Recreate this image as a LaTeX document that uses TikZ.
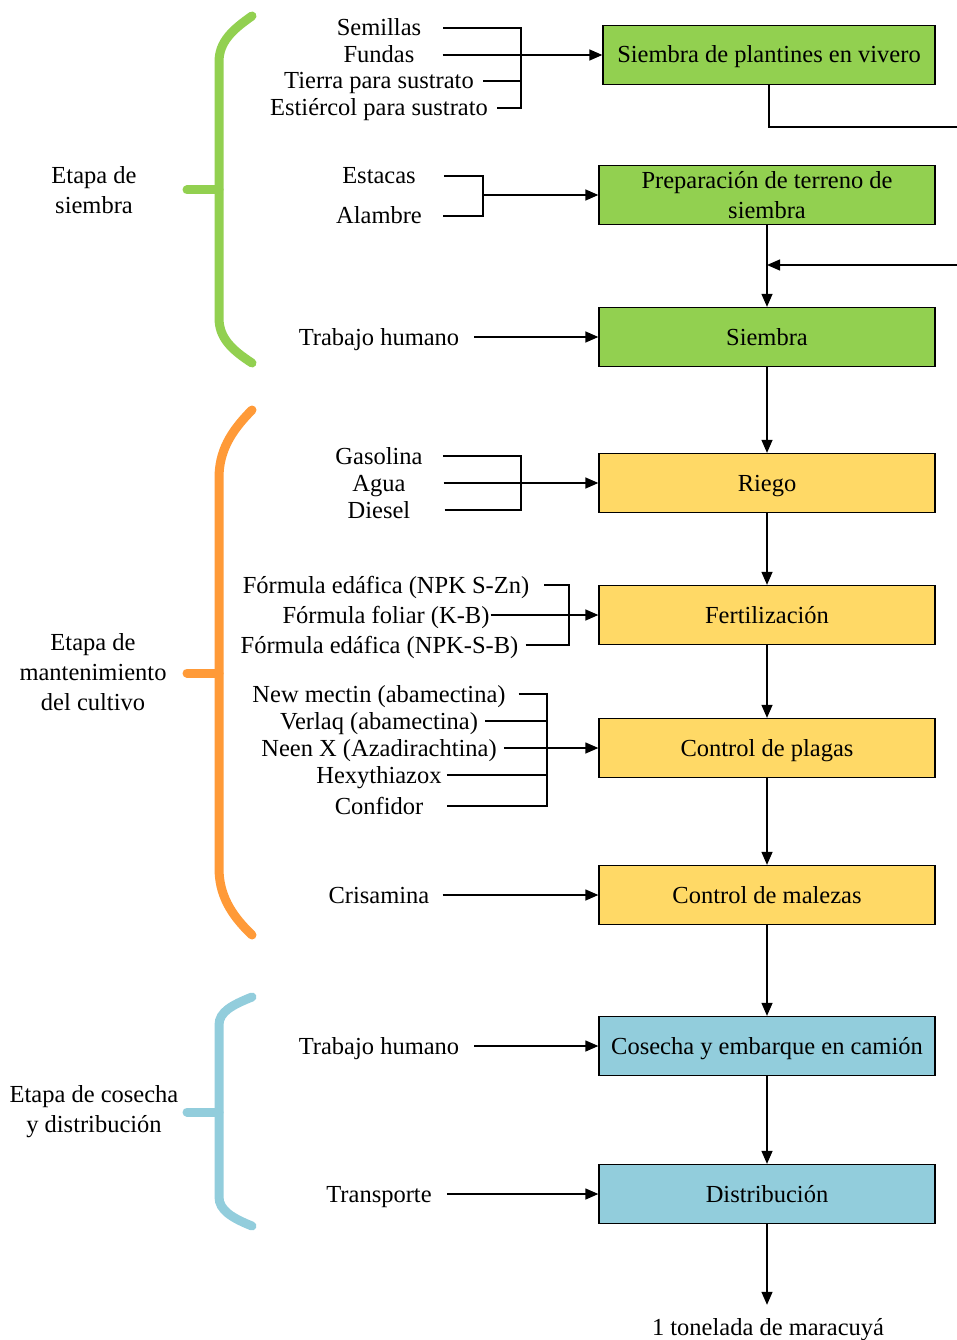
\documentclass[tikz,border=0pt]{standalone}
\usepackage{fontspec}
\setmainfont{Liberation Serif}
\usetikzlibrary{arrows.meta}
\definecolor{verde}{HTML}{92D050}
\definecolor{naranja}{HTML}{FF9A38}
\definecolor{amarillo}{HTML}{FFD966}
\definecolor{celeste}{HTML}{92CDDC}
\begin{document}
\begin{tikzpicture}[x=1pt, y=-1pt,
  every node/.style={font=\fontsize{24.5}{30}\selectfont, inner sep=0pt},
  inp/.style={text height=18pt, text depth=2pt},
  caja/.style={draw, line width=1.3pt, minimum width=336pt, minimum height=59pt, align=center},
  etapa/.style={align=center},
  linea/.style={line width=1.3pt},
  flecha/.style={line width=1.3pt, -{Triangle[length=13pt,width=11pt]}},
  llave/.style={line width=9pt, line cap=round}]
\useasboundingbox (0,0) rectangle (957,1340);
% procesos
\node[caja, inp, fill=verde, minimum width=332pt] (P1N0) at (769,55) {Siembra de plantines en vivero};
\node[caja, fill=verde] (P1N1) at (767,195) {Preparación de terreno de\\siembra};
\node[caja, inp, fill=verde] (P1N2) at (767,337) {Siembra};
\node[caja, inp, fill=amarillo] (P2N0) at (767,483) {Riego};
\node[caja, inp, fill=amarillo] (P2N1) at (767,615) {Fertilización};
\node[caja, inp, fill=amarillo] (P2N2) at (767,748) {Control de plagas};
\node[caja, inp, fill=amarillo] (P2N3) at (767,895) {Control de malezas};
\node[caja, inp, fill=celeste] (P3N0) at (767,1046) {Cosecha y embarque en camión};
\node[caja, inp, fill=celeste] (P3N1) at (767,1194) {Distribución};
\node[inp] (F0) at (768,1327) {1 tonelada de maracuyá};
% entradas
\node[inp] (I1N0) at (379,28) {Semillas};
\node[inp] (I1N1) at (379,55) {Fundas};
\node[inp] (I1N2) at (379,81) {Tierra para sustrato};
\node[inp] (I1N3) at (379,108) {Estiércol para sustrato};
\node[inp] (I1N4) at (379,176) {Estacas};
\node[inp] (I1N5) at (379,216) {Alambre};
\node[inp] (I1N6) at (379,337) {Trabajo humano};
\node[inp] (I2N0) at (379,456) {Gasolina};
\node[inp] (I2N1) at (379,483) {Agua};
\node[inp] (I2N2) at (379,510) {Diesel};
\node[inp] (I2N3) at (386,585) {Fórmula edáfica (NPK S-Zn)};
\node[inp] (I2N4) at (386,615) {Fórmula foliar (K-B)};
\node[inp] (I2N5) at (379.5,645) {Fórmula edáfica (NPK-S-B)};
\node[inp] (I2N6) at (379,694) {New mectin (abamectina)};
\node[inp] (I2N7) at (379,721) {Verlaq (abamectina)};
\node[inp] (I2N8) at (379,748) {Neen X (Azadirachtina)};
\node[inp] (I2N9) at (379,775) {Hexythiazox};
\node[inp] (I2N10) at (379,806) {Confidor};
\node[inp] (I2N11) at (379,895) {Crisamina};
\node[inp] (I3N0) at (379,1046) {Trabajo humano};
\node[inp] (I3N1) at (379,1194) {Transporte};
% etapas
\node[etapa] (E1) at (94,190) {Etapa de\\siembra};
\node[etapa] (E2) at (93,672) {Etapa de\\mantenimiento\\del cultivo};
\node[etapa] (E3) at (94,1112) {Etapa de cosecha\\y distribución};
% llaves
\draw[llave, verde] (252,16) .. controls (232,30) and (219,42) .. (219,62) -- (219,318) .. controls (219,338) and (232,350) .. (252,363);
\draw[llave, verde] (187,190) -- (219,190);
\draw[llave, naranja] (252,410) .. controls (230,432) and (219,452) .. (219,478) -- (219,868) .. controls (219,894) and (230,914) .. (252,935);
\draw[llave, naranja] (187,673) -- (219,673);
\draw[llave, celeste] (252,997) .. controls (232,1005) and (219,1012) .. (219,1025) -- (219,1197) .. controls (219,1210) and (232,1218) .. (252,1226);
\draw[llave, celeste] (187,1112) -- (219,1112);
% uniones
\coordinate (J1) at (521,55);
\coordinate (J2) at (483,195);
\coordinate (J3) at (521,483);
\coordinate (J4) at (569,615);
\coordinate (J5) at (547,748);
\coordinate (R1) at (957,127);
\coordinate (R2) at (957,265);
% conectores
\draw[linea] ([xshift=22pt]I1N0.east) -| (J1);
\draw[linea] ([xshift=9pt]I1N2.east) -| (J1);
\draw[linea] ([xshift=9pt]I1N3.east) -| (J1);
\draw[flecha] ([xshift=28pt]I1N1.east) -- (P1N0.west);
\draw[linea] ([xshift=28pt]I1N4.east) -| (J2);
\draw[linea] ([xshift=21pt]I1N5.east) -| (J2);
\draw[flecha] (J2) -- (P1N1.west);
\draw[flecha] ([xshift=15pt]I1N6.east) -- (P1N2.west);
\draw[linea] ([xshift=20pt]I2N0.east) -| (J3);
\draw[linea] ([xshift=34pt]I2N2.east) -| (J3);
\draw[flecha] ([xshift=38pt]I2N1.east) -- (P2N0.west);
\draw[linea] ([xshift=15pt]I2N3.east) -| (J4);
\draw[linea] ([xshift=7pt]I2N5.east) -| (J4);
\draw[flecha] ([xshift=1pt]I2N4.east) -- (P2N1.west);
\draw[linea] ([xshift=13pt]I2N6.east) -| (J5);
\draw[linea] ([xshift=7pt]I2N7.east) -| (J5);
\draw[linea] ([xshift=5pt]I2N9.east) -| (J5);
\draw[linea] ([xshift=24pt]I2N10.east) -| (J5);
\draw[flecha] ([xshift=7pt]I2N8.east) -- (P2N2.west);
\draw[flecha] ([xshift=13pt]I2N11.east) -- (P2N3.west);
\draw[flecha] ([xshift=15pt]I3N0.east) -- (P3N0.west);
\draw[flecha] ([xshift=15pt]I3N1.east) -- (P3N1.west);
\draw[linea] (P1N0.south) |- (R1);
\draw[flecha] (R2) -- (P1N1.south |- R2);
\draw[flecha] (P1N1) -- (P1N2);
\draw[flecha] (P1N2) -- (P2N0);
\draw[flecha] (P2N0) -- (P2N1);
\draw[flecha] (P2N1) -- (P2N2);
\draw[flecha] (P2N2) -- (P2N3);
\draw[flecha] (P2N3) -- (P3N0);
\draw[flecha] (P3N0) -- (P3N1);
\draw[flecha, shorten >=12pt] (P3N1.south) -- (P3N1.south |- F0.north);
\end{tikzpicture}
\end{document}
